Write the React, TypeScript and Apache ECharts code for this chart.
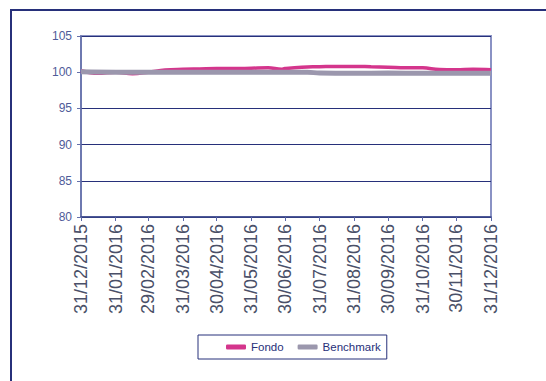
import React, { useEffect, useRef } from "react";
import * as echarts from "echarts";

const monthTicks = [
  "31/12/2015", "31/01/2016", "29/02/2016", "31/03/2016", "30/04/2016", "31/05/2016",
  "30/06/2016", "31/07/2016", "31/08/2016", "30/09/2016", "31/10/2016", "30/11/2016", "31/12/2016",
];

const fondoDates = [
  "31/12/2015", "15/01/2016", "31/01/2016", "15/02/2016", "29/02/2016", "15/03/2016", "31/03/2016",
  "15/04/2016", "30/04/2016", "15/05/2016", "31/05/2016", "15/06/2016", "27/06/2016", "30/06/2016",
  "15/07/2016", "31/07/2016", "15/08/2016", "31/08/2016", "15/09/2016", "30/09/2016", "15/10/2016",
  "31/10/2016", "15/11/2016", "30/11/2016", "15/12/2016", "31/12/2016",
];
const fondoValues = [
  100.2, 99.85, 100.0, 99.8, 100.0, 100.3, 100.4,
  100.45, 100.5, 100.5, 100.55, 100.6, 100.4, 100.5,
  100.7, 100.75, 100.8, 100.8, 100.75, 100.7, 100.62,
  100.6, 100.38, 100.35, 100.4, 100.35,
];

const benchDates = [
  "31/12/2015", "31/01/2016", "29/02/2016", "31/03/2016", "30/04/2016", "31/05/2016",
  "30/06/2016", "20/07/2016", "31/07/2016", "31/08/2016", "30/09/2016", "31/10/2016", "30/11/2016", "31/12/2016",
];
const benchValues = [
  100.05, 100.0, 100.0, 100.0, 100.0, 100.0,
  100.0, 100.0, 99.88, 99.85, 99.88, 99.85, 99.85, 99.85,
];

const yMin = 80;
const yMax = 105;
const yStep = 5;

function pad(n: number) {
  return n < 10 ? "0" + n : "" + n;
}
function buildDays(): string[] {
  const out: string[] = [];
  const d = new Date(2015, 11, 31);
  const end = new Date(2016, 11, 31);
  while (d <= end) {
    out.push(pad(d.getDate()) + "/" + pad(d.getMonth() + 1) + "/" + d.getFullYear());
    d.setDate(d.getDate() + 1);
  }
  return out;
}

export default function App() {
  const ref = useRef<HTMLDivElement>(null);
  useEffect(() => {
    if (!ref.current) return;
    const chart = echarts.init(ref.current, undefined, { renderer: "svg" });
    const days = buildDays();
    const isTick = (_i: number, v: string) => monthTicks.includes(v);
    const navy = "#27307a";
    chart.setOption({
      animation: false,
      backgroundColor: "#ffffff",
      textStyle: { fontFamily: "Liberation Sans, Arial, sans-serif" },
      graphic: [
        {
          type: "rect",
          shape: { x: 11, y: 10, width: 600, height: 420 },
          style: { fill: "none", stroke: navy, lineWidth: 2 },
          silent: true,
        },
      ],
      grid: {
        left: 81,
        right: 55,
        top: 36,
        bottom: 164,
        show: true,
        borderColor: "#8a92c4",
        borderWidth: 2,
        backgroundColor: "transparent",
      },
      legend: {
        left: 198,
        top: 335,
        width: 186,
        height: 24,
        orient: "horizontal",
        padding: [6, 6, 6, 28],
        borderColor: navy,
        borderWidth: 1,
        itemWidth: 20,
        itemHeight: 5,
        itemGap: 14,
        icon: "roundRect",
        textStyle: { color: navy, fontSize: 11.5, fontFamily: "Liberation Sans, Arial, sans-serif" },
        data: ["Fondo", "Benchmark"],
      },
      xAxis: {
        type: "category",
        data: days,
        boundaryGap: false,
        axisLine: { lineStyle: { color: "#3a4688", width: 1.5 } },
        axisTick: { interval: isTick, length: 4, lineStyle: { color: "#5a66a6" } },
        axisLabel: {
          interval: isTick,
          rotate: 90,
          margin: 7,
          color: "#4a5068",
          fontSize: 18,
          fontFamily: "Liberation Sans, Arial, sans-serif",
        },
        splitLine: { show: false },
      },
      yAxis: {
        type: "value",
        min: yMin,
        max: yMax,
        interval: yStep,
        axisLine: { show: true, lineStyle: { color: "#6470aa", width: 1.5 } },
        axisTick: { show: true, length: 4, lineStyle: { color: "#6470aa" } },
        axisLabel: { color: "#4f5b99", fontSize: 12, margin: 9, fontFamily: "Liberation Sans, Arial, sans-serif" },
        splitLine: { show: true, lineStyle: { color: navy, width: 1.2 } },
      },
      series: [
        {
          name: "Fondo",
          type: "line",
          data: fondoDates.map((d, i) => [d, fondoValues[i]]),
          showSymbol: false,
          smooth: 0.4,
          lineStyle: { color: "#d4358c", width: 3.5 },
          itemStyle: { color: "#d4358c" },
        },
        {
          name: "Benchmark",
          type: "line",
          data: benchDates.map((d, i) => [d, benchValues[i]]),
          showSymbol: false,
          smooth: 0.4,
          lineStyle: { color: "#9b97ad", width: 5 },
          itemStyle: { color: "#9b97ad" },
        },
      ],
    });
    return () => chart.dispose();
  }, []);
  return (
    <div
      ref={ref}
      style={{ position: "absolute", left: 0, top: 0, width: 546, height: 381 }}
    />
  );
}
